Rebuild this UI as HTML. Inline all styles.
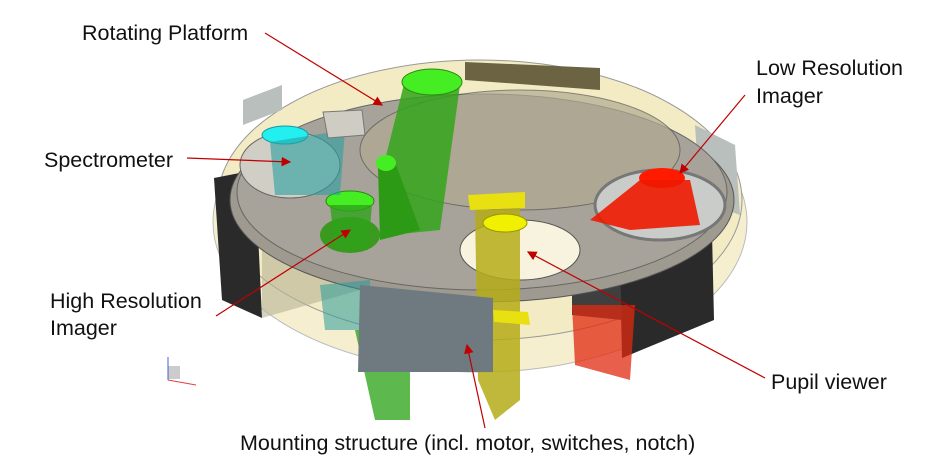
<!DOCTYPE html>
<html><head><meta charset="utf-8"><style>
html,body{margin:0;padding:0;background:#fff;width:952px;height:463px;overflow:hidden}
svg{display:block}
text{font-family:"Liberation Sans",sans-serif;font-size:21.5px;fill:#111}
</style></head><body>
<svg width="952" height="463" viewBox="0 0 952 463">
<defs><marker id="a" markerWidth="8" markerHeight="8" refX="7" refY="4" orient="auto"><path d="M0,0 L8,4 L0,8 z" fill="#c00000"/></marker></defs>
<ellipse cx="480" cy="222" rx="267" ry="150" fill="#f6efcf" stroke="#bbb"/>
<ellipse cx="480" cy="200" rx="262" ry="140" fill="#f3ebc4" stroke="#999"/>
<path d="M465,62 L600,68 L600,90 L465,80 z" fill="#6b6342"/>
<path d="M214,178 L255,170 L262,318 L222,300 z" fill="#2a2a2a"/>
<path d="M262,318 L360,290 L360,270 L262,250 z" fill="#b8b294" opacity=".6"/>
<path d="M620,270 L712,232 L714,320 L622,358 z" fill="#2a2a2a"/>
<path d="M572,295 L620,270 L622,320 L572,315 z" fill="#3f3f3f"/>
<path d="M243,100 L282,85 L282,110 L243,125 z" fill="#b9bfbd"/>
<path d="M695,125 L735,145 L740,215 L700,200 z" fill="#b9bfbd"/>
<ellipse cx="482" cy="200" rx="252" ry="102" fill="#9e9a90" stroke="#555"/>
<ellipse cx="482" cy="192" rx="245" ry="98" fill="#a7a39a" stroke="#666"/>
<ellipse cx="520" cy="150" rx="160" ry="60" fill="#b2aa92" opacity=".7" stroke="#555"/>
<ellipse cx="290" cy="165" rx="50" ry="33" fill="#d0cec5" stroke="#666"/>
<ellipse cx="520" cy="250" rx="60" ry="30" fill="#f7f3de" stroke="#555"/>
<ellipse cx="350" cy="235" rx="30" ry="18" fill="#3a9a20"/>
<ellipse cx="660" cy="205" rx="65" ry="35" fill="#c9ccc8" stroke="#777" stroke-width="3"/>
<path d="M405,80 L460,85 L440,230 L390,235 L380,180 z" fill="#33a51a" opacity=".85"/>
<ellipse cx="432" cy="82" rx="30" ry="13" fill="#44ee22" stroke="#2a8a10"/>
<path d="M378,168 L395,162 L420,230 L380,240 z" fill="#2d9a15"/>
<ellipse cx="386" cy="163" rx="10" ry="8" fill="#44ee22"/>
<ellipse cx="350" cy="201" rx="24" ry="10" fill="#44ee22" stroke="#2a8a10"/>
<path d="M330,205 L372,205 L368,250 L335,248 z" fill="#2fa21a" opacity=".8"/>
<path d="M320,285 L370,280 L372,330 L325,330 z" fill="#2a9a9a" opacity=".55"/>
<path d="M355,330 L410,330 L410,420 L375,420 z" fill="#27a012" opacity=".75"/>
<ellipse cx="285" cy="135" rx="23" ry="9" fill="#22f0f0" stroke="#1a9aa0"/>
<path d="M270,142 L345,130 L340,195 L275,195 z" fill="#2aa0a0" opacity=".6"/>
<path d="M323,112 L362,110 L365,135 L328,138 z" fill="#cfcdc3" stroke="#777"/>
<path d="M468,195 L525,192 L525,208 L470,210 z" fill="#e8e010"/>
<path d="M475,210 L520,208 L520,400 L495,420 L478,380 z" fill="#b5ac18" opacity=".85"/>
<ellipse cx="505" cy="223" rx="22" ry="9" fill="#f0f000" stroke="#999900"/>
<path d="M493,310 L528,312 L530,325 L494,322 z" fill="#e8e010"/>
<ellipse cx="662" cy="178" rx="23" ry="10" fill="#ff1a00"/>
<path d="M640,180 L690,180 L700,225 L630,230 L590,220 z" fill="#ee1a00" opacity=".9"/>
<path d="M572,305 L635,305 L630,380 L575,365 z" fill="#e02a10" opacity=".75"/>
<path d="M360,285 L493,298 L493,372 L358,372 z" fill="#6e7a80"/>
<rect x="168" y="366" width="12" height="13" fill="#ccc"/>
<line x1="168" y1="380" x2="196" y2="385" stroke="#e04040"/>
<line x1="168" y1="380" x2="168" y2="357" stroke="#4060d0"/>
<g stroke="#c00000" stroke-width="1.2" fill="none" marker-end="url(#a)">
<line x1="265" y1="33" x2="382" y2="105"/>
<line x1="745" y1="95" x2="680" y2="173"/>
<line x1="187" y1="158" x2="290" y2="162"/>
<line x1="216" y1="316" x2="350" y2="230"/>
<line x1="765" y1="378" x2="528" y2="252"/>
<line x1="485" y1="428" x2="467" y2="345"/>
</g>
<text x="82" y="40">Rotating Platform</text>
<text x="756" y="75">Low Resolution</text>
<text x="756" y="103">Imager</text>
<text x="44" y="167">Spectrometer</text>
<text x="50" y="308">High Resolution</text>
<text x="50" y="335">Imager</text>
<text x="771" y="389">Pupil viewer</text>
<text x="240" y="450">Mounting structure (incl. motor, switches, notch)</text>
</svg>
</body></html>
